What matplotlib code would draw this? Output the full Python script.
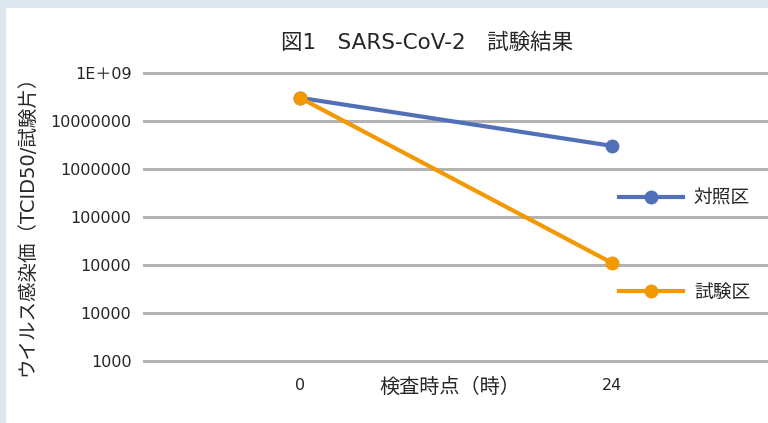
import numpy as np
import matplotlib.pyplot as plt
from matplotlib.patches import Rectangle

plt.rcParams['font.family'] = ['DejaVu Sans', 'Noto Sans CJK JP']

# data
times = ['0', '24']
control = [3.0e8, 3.0e7]      # 対照区
test = [3.0e8, 1.1e5]         # 試験区
yticks = [1e3, 1e4, 1e5, 1e6, 1e7, 1e8, 1e9]
ytick_labels = ['1000', '10000', '10000', '100000', '1000000', '10000000', '1E＋09']

fig = plt.figure(figsize=(7.68, 4.23), dpi=100)
fig.patch.set_facecolor('#dce7f0')
# white chart panel over the pale background
panel = Rectangle((6 / 768, 0), 1, 1 - 8 / 423, transform=fig.transFigure,
                  facecolor='white', edgecolor='none', zorder=-10)
fig.add_artist(panel)

ax = fig.add_axes([144 / 768, 1 - 361 / 423, 1 - 144 / 768, (361 - 72.7) / 423])
ax.set_facecolor('none')
x = np.arange(len(times))
ax.plot(x, control, color='#5270b8', lw=3, marker='o', ms=9, label='対照区', zorder=3)
ax.plot(x, test, color='#f39800', lw=3, marker='o', ms=9, label='試験区', zorder=4)

ax.set_yscale('log')
ax.set_ylim(1e3, 1e9)
ax.set_xlim(-0.5, 1.5)
ax.set_yticks(yticks)
ax.set_yticklabels(ytick_labels)
ax.yaxis.set_minor_locator(plt.NullLocator())
ax.set_xticks(x)
ax.set_xticklabels(times)
ax.tick_params(axis='y', length=0, pad=9, labelsize=11.5, labelcolor='#262626')
ax.tick_params(axis='x', length=0, pad=12, labelsize=11.5, labelcolor='#262626')
ax.grid(axis='y', color='#b3b3b3', lw=2.2, zorder=1)
for gl in ax.get_ygridlines():
    gl.set_clip_on(False)
ax.set_axisbelow(True)
for s in ax.spines.values():
    s.set_visible(False)

ax.text(0.49, -0.09, '検査時点（時）', transform=ax.transAxes, ha='center', va='center',
        fontsize=14.5, color='#262626')
fig.text(27 / 768, 1 - 221 / 423, 'ウイルス感染価（TCID50/試験片）', rotation=90,
         ha='center', va='center', fontsize=14, color='#262626')
fig.text(427 / 768, 1 - 43 / 423, '図1　SARS-CoV-2　試験結果', ha='center', va='center',
         fontsize=15.5, color='#262626')

ax.legend(loc='center left', bbox_to_anchor=(0.761, 0.402), frameon=False,
          borderaxespad=0, borderpad=0, handlelength=3.4, handletextpad=0.6,
          labelspacing=4.0, fontsize=13.5, labelcolor='#262626')

fig.savefig('out.png', dpi=100, facecolor=fig.get_facecolor())
